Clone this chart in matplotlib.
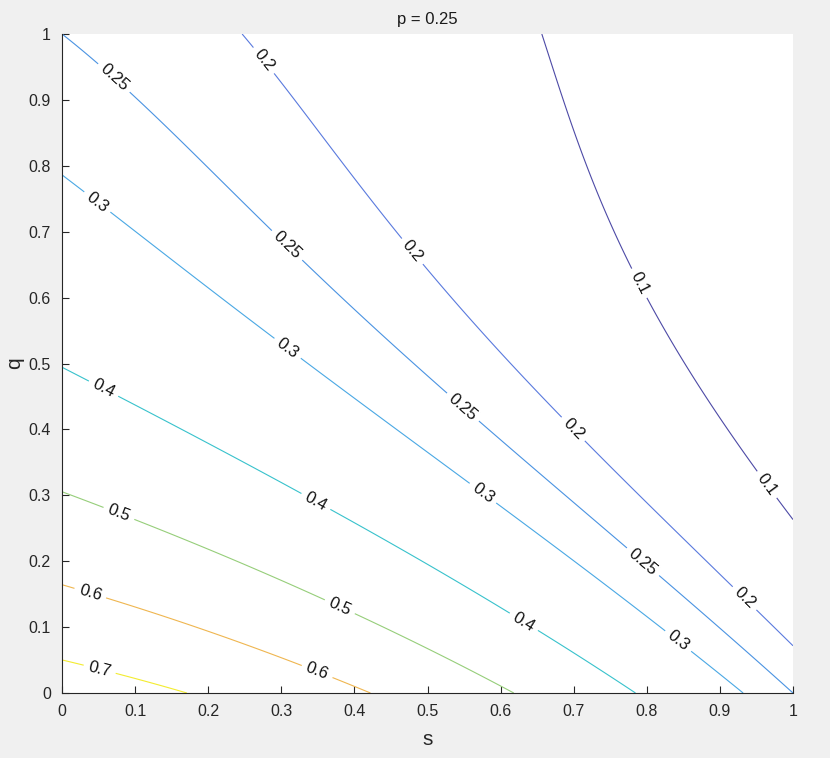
import numpy as np
import matplotlib
matplotlib.use("Agg")
import matplotlib.pyplot as plt

plt.rcParams['font.family'] = ['Liberation Sans', 'DejaVu Sans']

# contour levels and their (parula-like) colours
levels = [0.1, 0.2, 0.25, 0.3, 0.4, 0.5, 0.6, 0.7]
level_colors = ['#4d4aa6', '#5a7ade', '#4a93e2', '#4aa8e4', '#38c2cc',
                '#96ce7a', '#efb650', '#f3ec30']

# surface coefficients (p = 0.25), written in a = 1 - s, b = 1 - q
p = 0.25
lin_coef = [1.25, 1.75]   # a * (c0 + c1*b)
sq_coef = [0.25, 0.75]    # a^2 * (c0 + c1*b)
corr_coef = [0.8, 0.14]   # a*b*(1-b) * (c0*(1-a) + c1*a)

ticks = [0, 0.1, 0.2, 0.3, 0.4, 0.5, 0.6, 0.7, 0.8, 0.9, 1]
tick_labels = ['0', '0.1', '0.2', '0.3', '0.4', '0.5', '0.6', '0.7', '0.8', '0.9', '1']

# where the inline labels sit (s, q)
label_pos = [
    (0.066, 0.927), (0.312, 0.684), (0.551, 0.437), (0.797, 0.202),   # 0.25
    (0.042, 0.736), (0.312, 0.528), (0.581, 0.311), (0.848, 0.086),   # 0.3
    (0.274, 0.958), (0.490, 0.680), (0.709, 0.411), (0.934, 0.144),   # 0.2
    (0.804, 0.630), (0.969, 0.320),                                   # 0.1
    (0.056, 0.460), (0.346, 0.288), (0.629, 0.103),                   # 0.4
    (0.077, 0.270), (0.378, 0.126),                                   # 0.5
    (0.038, 0.149), (0.346, 0.024),                                   # 0.6
    (0.052, 0.038),                                                   # 0.7
]

s = np.linspace(0, 1, 301)
q = np.linspace(0, 1, 301)
S, Q = np.meshgrid(s, q)
A = 1 - S
B = 1 - Q
P = (B**3 + A * (lin_coef[0] + lin_coef[1] * B)
     - A**2 * (sq_coef[0] + sq_coef[1] * B)
     - A * B * (1 - B) * (corr_coef[0] * (1 - A) + corr_coef[1] * A))
Z = p * P

fig = plt.figure(figsize=(8.3, 7.58), dpi=100, facecolor='#f0f0f0')
ax = fig.add_axes([62 / 830, 1 - 693 / 758, 731 / 830, 659 / 758])
ax.set_facecolor('white')

cs = ax.contour(S, Q, Z, levels=levels, colors=level_colors, linewidths=0.8)
ax.clabel(cs, levels, inline=True, fontsize=12, fmt='%g', colors='#111111',
          manual=label_pos, inline_spacing=5)

ax.set_xlim(0, 1)
ax.set_ylim(0, 1)
ax.set_xticks(ticks)
ax.set_xticklabels(tick_labels)
ax.set_yticks(ticks)
ax.set_yticklabels(tick_labels)
ax.tick_params(direction='in', length=5, width=0.8, labelsize=11.5,
               colors='#262626', pad=8)
for side in ['top', 'right']:
    ax.spines[side].set_visible(False)
for side in ['left', 'bottom']:
    ax.spines[side].set_color('#262626')
    ax.spines[side].set_linewidth(0.8)

ax.set_title('p = 0.25', fontsize=12, color='#1a1a1a', pad=7)
ax.set_xlabel('s', fontsize=15, color='#262626', labelpad=8)
ax.set_ylabel('q', fontsize=15, color='#262626', labelpad=3)

fig.savefig('out.png', dpi=100, facecolor=fig.get_facecolor())
